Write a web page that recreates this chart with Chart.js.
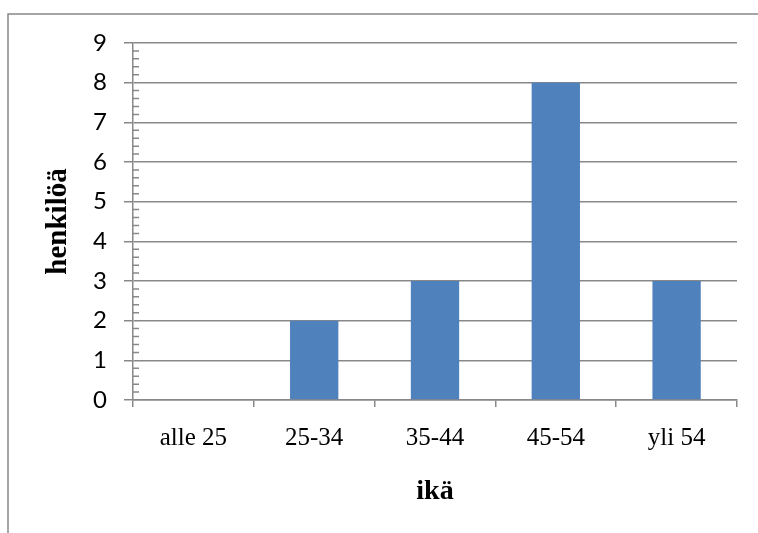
<!DOCTYPE html>
<html>
<head>
<meta charset="utf-8">
<script src="https://cdn.jsdelivr.net/npm/chart.js@4/dist/chart.umd.min.js"></script>
<style>
    html, body { margin:0; padding:0; background:#fff; }
    #wrap { position:relative; width:758px; height:533px; }
</style>
</head>
<body>
<div id="wrap"><canvas id="kaavio" width="758" height="533"></canvas></div>
<script>
const ikaryhmat = ['alle 25', '25-34', '35-44', '45-54', 'yli 54'];
const henkiloita = [0, 2, 3, 8, 3];
const yMin = 0;
const yMax = 9;
const yAskel = 1;
const pikkuAskel = 0.2;

const harmaa = '#888888';
const sininen = '#4F81BD';

// kehys ja pienet jakoviivat y-akselille
const kehys = {
    id: 'kehys',
    beforeDraw(chart){
        const ctx = chart.ctx;
        ctx.save();
        ctx.strokeStyle = harmaa;
        ctx.lineWidth = 1.5;
        ctx.strokeRect(8, 14, 900, 700);
        ctx.restore();
    },
    afterDraw(chart){
        const y = chart.scales.y;
        const ctx = chart.ctx;
        ctx.save();
        ctx.strokeStyle = harmaa;
        ctx.lineWidth = 1.5;
        ctx.beginPath();
        for(let v = yMin; v <= yMax + 1e-9; v += pikkuAskel){
            const r = Math.round(v / yAskel * 1000) / 1000;
            if(Number.isInteger(r)) continue;
            const py = y.getPixelForValue(v);
            ctx.moveTo(y.right, py);
            ctx.lineTo(y.right + 6, py);
        }
        ctx.stroke();
        ctx.restore();
    }
};

new Chart(document.getElementById('kaavio').getContext('2d'), {
    type: 'bar',
    data: {
        labels: ikaryhmat,
        datasets: [{ data: henkiloita, backgroundColor: sininen, categoryPercentage: 1, barPercentage: 0.4 }]
    },
    options: {
        responsive: false,
        animation: false,
        layout: { padding: { left: 0, top: 43, right: 21, bottom: 0 } },
        plugins: { legend: { display: false }, tooltip: { enabled: false } },
        scales: {
            x: {
                afterFit(s){ s.height = 133; },
                grid: { offset: true, drawOnChartArea: false, drawTicks: true, tickLength: 7, color: harmaa, lineWidth: 1.5 },
                border: { color: harmaa, width: 1.5 },
                ticks: { color: '#000', padding: 16, font: { family: '"Liberation Serif", serif', size: 25 } },
                title: { display: true, text: 'ikä', color: '#000', padding: { top: 0, bottom: 24 },
                         font: { family: '"Liberation Serif", serif', size: 28, weight: 'bold' } }
            },
            y: {
                min: yMin, max: yMax,
                afterFit(s){ s.width = 133; },
                grid: { color: harmaa, lineWidth: 1.5, drawTicks: true, tickLength: 9 },
                border: { color: harmaa, width: 1.5 },
                ticks: { stepSize: yAskel, color: '#000', padding: 17, font: { family: 'Lato, "Noto Sans", sans-serif', size: 24 } },
                title: { display: true, text: 'henkilöä', color: '#000', padding: { top: 41, bottom: 0 },
                         font: { family: '"Liberation Serif", serif', size: 29, weight: 'bold' } }
            }
        }
    },
    plugins: [kehys]
});
</script>
</body>
</html>
